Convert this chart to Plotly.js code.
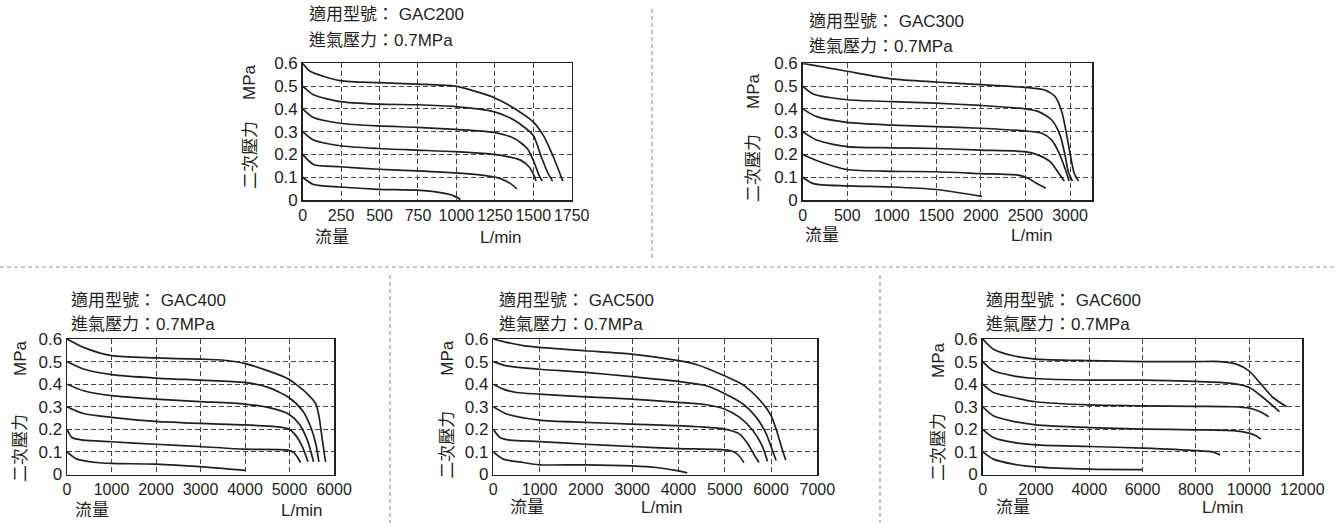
<!DOCTYPE html>
<html>
<head>
<meta charset="utf-8">
<script src="https://cdn.plot.ly/plotly-3.0.1.min.js"></script>
<style>html,body{margin:0;padding:0;background:#fff;}#chart{width:1336px;height:523px;}</style>
</head>
<body>
<div id="chart"></div>
<script>
// ---------- data (flow L/min, secondary pressure MPa) ----------
const PRESSURE_TICKS = [0, 0.1, 0.2, 0.3, 0.4, 0.5, 0.6];
const PRESSURE_LABELS = ["0", "0.1", "0.2", "0.3", "0.4", "0.5", "0.6"];

const GAC200_TICKS = [0, 250, 500, 750, 1000, 1250, 1500, 1750];
const GAC200_FLOW = [
  [0, 48, 243, 493, 743, 993, 1113, 1243, 1374, 1498, 1570, 1635, 1692],
  [0, 70, 243, 493, 743, 993, 1243, 1374, 1498, 1548, 1591, 1625],
  [0, 70, 243, 493, 743, 993, 1243, 1374, 1461, 1504, 1537, 1558],
  [0, 70, 243, 493, 743, 993, 1243, 1309, 1417, 1472, 1504, 1518],
  [0, 70, 243, 493, 743, 993, 1200, 1287, 1352, 1393],
  [0, 70, 243, 493, 743, 896, 983, 1026]
];
const GAC200_PRESSURE = [
  [0.6, 0.565, 0.524, 0.515, 0.509, 0.5, 0.479, 0.45, 0.403, 0.344, 0.278, 0.182, 0.083],
  [0.5, 0.462, 0.432, 0.421, 0.418, 0.41, 0.388, 0.351, 0.285, 0.197, 0.124, 0.083],
  [0.4, 0.362, 0.337, 0.325, 0.319, 0.31, 0.297, 0.271, 0.226, 0.168, 0.109, 0.083],
  [0.3, 0.263, 0.238, 0.226, 0.219, 0.212, 0.2, 0.194, 0.175, 0.146, 0.109, 0.083],
  [0.2, 0.156, 0.146, 0.135, 0.128, 0.119, 0.106, 0.094, 0.072, 0.049],
  [0.1, 0.068, 0.057, 0.047, 0.043, 0.032, 0.018, 0.002]
];

const GAC300_TICKS = [0, 500, 1000, 1500, 2000, 2500, 3000];
const GAC300_FLOW = [
  [0, 498, 1000, 1494, 1996, 2498, 2721, 2832, 2907, 2963, 3011, 3048, 3095],
  [0, 119, 498, 1000, 1494, 1996, 2498, 2647, 2795, 2888, 2944, 2981, 3025],
  [0, 156, 498, 1000, 1494, 1996, 2498, 2684, 2795, 2870, 2944, 2990],
  [0, 156, 498, 1000, 1494, 1996, 2498, 2647, 2777, 2862, 2935],
  [0, 193, 498, 1000, 1494, 1996, 2424, 2535, 2628, 2728],
  [0, 119, 498, 1000, 1494, 2011]
];
const GAC300_PRESSURE = [
  [0.6, 0.565, 0.532, 0.518, 0.506, 0.494, 0.482, 0.454, 0.388, 0.285, 0.182, 0.116, 0.083],
  [0.5, 0.465, 0.44, 0.432, 0.425, 0.415, 0.4, 0.388, 0.351, 0.285, 0.197, 0.124, 0.083],
  [0.4, 0.366, 0.341, 0.329, 0.322, 0.315, 0.303, 0.293, 0.263, 0.212, 0.138, 0.083],
  [0.3, 0.263, 0.234, 0.229, 0.226, 0.219, 0.212, 0.197, 0.168, 0.124, 0.083],
  [0.2, 0.168, 0.134, 0.126, 0.124, 0.116, 0.109, 0.094, 0.072, 0.052],
  [0.1, 0.072, 0.062, 0.057, 0.046, 0.016]
];

const GAC400_TICKS = [0, 1000, 2000, 3000, 4000, 5000, 6000];
const GAC400_FLOW = [
  [0, 370, 1000, 1985, 2985, 3481, 3985, 4519, 4985, 5407, 5593, 5667, 5741, 5810],
  [0, 370, 1000, 1985, 2985, 3985, 4519, 4985, 5296, 5481, 5593, 5660],
  [0, 370, 1000, 1985, 2985, 3985, 4519, 4985, 5222, 5407, 5540],
  [0, 370, 1000, 1985, 2985, 3985, 4741, 4985, 5148, 5296, 5415],
  [0, 111, 370, 1000, 1985, 2985, 3985, 4963, 5096, 5185, 5248],
  [0, 222, 667, 1000, 1985, 2985, 4000]
];
const GAC400_PRESSURE = [
  [0.6, 0.563, 0.526, 0.516, 0.511, 0.507, 0.492, 0.459, 0.422, 0.356, 0.312, 0.253, 0.149, 0.056],
  [0.5, 0.467, 0.442, 0.427, 0.418, 0.408, 0.386, 0.341, 0.282, 0.208, 0.134, 0.056],
  [0.4, 0.371, 0.349, 0.334, 0.323, 0.312, 0.297, 0.267, 0.223, 0.149, 0.056],
  [0.3, 0.27, 0.253, 0.235, 0.226, 0.22, 0.211, 0.201, 0.171, 0.12, 0.056],
  [0.2, 0.164, 0.152, 0.145, 0.134, 0.124, 0.112, 0.108, 0.097, 0.075, 0.053],
  [0.1, 0.068, 0.053, 0.049, 0.046, 0.035, 0.018]
];

const GAC500_TICKS = [0, 1000, 2000, 3000, 4000, 5000, 6000, 7000];
const GAC500_FLOW = [
  [0, 288, 647, 993, 1993, 2993, 4000, 4388, 4993, 5396, 5755, 5993, 6115, 6223, 6317],
  [0, 288, 993, 1993, 2993, 4000, 4604, 4993, 5396, 5683, 5899, 6007, 6110],
  [0, 216, 504, 993, 1993, 2993, 4000, 4604, 4993, 5324, 5612, 5791, 5899, 5921],
  [0, 288, 993, 1993, 2993, 4000, 4993, 5324, 5504, 5647, 5741],
  [0, 144, 360, 993, 1993, 2993, 4000, 4993, 5180, 5309, 5415],
  [0, 216, 647, 993, 1993, 2993, 3525, 4000, 4190]
];
const GAC500_PRESSURE = [
  [0.6, 0.585, 0.571, 0.563, 0.548, 0.533, 0.504, 0.487, 0.437, 0.397, 0.33, 0.264, 0.198, 0.124, 0.064],
  [0.5, 0.481, 0.466, 0.452, 0.433, 0.412, 0.393, 0.359, 0.312, 0.253, 0.179, 0.12, 0.062],
  [0.4, 0.378, 0.363, 0.356, 0.344, 0.334, 0.319, 0.309, 0.29, 0.253, 0.194, 0.134, 0.075, 0.058],
  [0.3, 0.268, 0.241, 0.231, 0.223, 0.216, 0.201, 0.179, 0.134, 0.083, 0.053],
  [0.2, 0.164, 0.152, 0.146, 0.134, 0.124, 0.115, 0.109, 0.102, 0.083, 0.053],
  [0.1, 0.068, 0.053, 0.043, 0.043, 0.038, 0.031, 0.016, 0.007]
];

const GAC600_TICKS = [0, 2000, 4000, 6000, 8000, 10000, 12000];
const GAC600_FLOW = [
  [0, 400, 1150, 1988, 4000, 6000, 8000, 8900, 9525, 10000, 10400, 10900, 11410],
  [0, 400, 1150, 1988, 4000, 6000, 8000, 8900, 9525, 10000, 10525, 11140],
  [0, 400, 1150, 1988, 4000, 6000, 8000, 9400, 10000, 10400, 10740],
  [0, 400, 1150, 1988, 4000, 6000, 8000, 9400, 10000, 10275, 10440],
  [0, 400, 1150, 1988, 4000, 6000, 8000, 8650, 8920],
  [0, 400, 1150, 1988, 4000, 6000]
];
const GAC600_PRESSURE = [
  [0.6, 0.555, 0.526, 0.511, 0.504, 0.5, 0.5, 0.5, 0.489, 0.459, 0.407, 0.341, 0.3],
  [0.5, 0.459, 0.437, 0.425, 0.418, 0.418, 0.412, 0.408, 0.4, 0.386, 0.341, 0.278],
  [0.4, 0.363, 0.341, 0.322, 0.308, 0.304, 0.302, 0.3, 0.294, 0.279, 0.256],
  [0.3, 0.26, 0.235, 0.22, 0.208, 0.201, 0.198, 0.194, 0.183, 0.171, 0.157],
  [0.2, 0.164, 0.142, 0.131, 0.124, 0.117, 0.106, 0.099, 0.087],
  [0.1, 0.068, 0.046, 0.034, 0.024, 0.022]
];

const MODELS = ["GAC200", "GAC300", "GAC400", "GAC500", "GAC600"];
const INLET_PRESSURE = "0.7MPa";

// ---------- layout / styling ----------
const INK = '#231f20';
const LATIN_CJK = '"Liberation Sans", "Noto Sans CJK TC", sans-serif';

const panels = [
  {flow: GAC200_FLOW, pres: GAC200_PRESSURE, ticks: GAC200_TICKS, xmax: 1750,
   dom: [302.7, 571.7, 63.3, 200], title: [307, 15, 40.5], ylab: [250, 82, 155], xlab: [332, 501, 238]},
  {flow: GAC300_FLOW, pres: GAC300_PRESSURE, ticks: GAC300_TICKS, xmax: 3250,
   dom: [802.7, 1092.3, 63.3, 200], title: [807, 21.5, 46], ylab: [753, 91, 168], xlab: [822, 1032, 235]},
  {flow: GAC400_FLOW, pres: GAC400_PRESSURE, ticks: GAC400_TICKS, xmax: 6000,
   dom: [67, 334, 339, 474.5], title: [69, 300.7, 324.5], ylab: [20, 358, 448], xlab: [92, 302, 510]},
  {flow: GAC500_FLOW, pres: GAC500_PRESSURE, ticks: GAC500_TICKS, xmax: 7000,
   dom: [493.3, 817.3, 339, 474.5], title: [497, 300.7, 324.5], ylab: [446.7, 358, 445], xlab: [527, 662, 507]},
  {flow: GAC600_FLOW, pres: GAC600_PRESSURE, ticks: GAC600_TICKS, xmax: 12000,
   dom: [982.7, 1302.3, 339, 474.5], title: [984, 300.7, 324.5], ylab: [938, 360, 447], xlab: [1013, 1223, 507]}
];

const W = 1336, H = 523;
const px = v => v / W;
const py = v => 1 - v / H;

const traces = [];
const layout = {
  width: W, height: H,
  margin: {l: 0, r: 0, t: 0, b: 0},
  paper_bgcolor: '#fff', plot_bgcolor: '#fff',
  showlegend: false,
  font: {family: LATIN_CJK, color: INK},
  annotations: [],
  shapes: []
};

panels.forEach((p, i) => {
  const n = i + 1;
  const xa = n === 1 ? 'x' : 'x' + n;
  const ya = n === 1 ? 'y' : 'y' + n;
  p.flow.forEach((fx, k) => {
    traces.push({
      type: 'scatter', mode: 'lines', x: fx, y: p.pres[k],
      xaxis: xa, yaxis: ya, hoverinfo: 'skip',
      line: {color: INK, width: 1.7, shape: 'spline', smoothing: 0.7}
    });
  });
  const common = {
    showgrid: true, gridcolor: '#444444', gridwidth: 1, griddash: '5px,3px',
    showline: true, mirror: true, linecolor: INK, linewidth: 1.5,
    zeroline: false, ticks: '', fixedrange: true
  };
  layout['xaxis' + (n === 1 ? '' : n)] = Object.assign({}, common, {
    domain: [px(p.dom[0]), px(p.dom[1])], range: [0, p.xmax], anchor: ya,
    tickvals: p.ticks, ticktext: p.ticks.map(String),
    tickfont: {size: 16, color: INK, family: LATIN_CJK}
  });
  layout['yaxis' + (n === 1 ? '' : n)] = Object.assign({}, common, {
    domain: [py(p.dom[3]), py(p.dom[2])], range: [0, 0.6], anchor: xa,
    tickvals: PRESSURE_TICKS, ticktext: PRESSURE_LABELS,
    tickfont: {size: 17, color: INK, family: LATIN_CJK}
  });
  const ann = (text, x, y, opts) => layout.annotations.push(Object.assign({
    text: text, xref: 'paper', yref: 'paper', x: px(x), y: py(y),
    xanchor: 'left', yanchor: 'middle', showarrow: false,
    font: {size: 17, color: INK, family: LATIN_CJK}
  }, opts || {}));
  ann('適用型號： ' + MODELS[i], p.title[0], p.title[1]);
  ann('進氣壓力：' + INLET_PRESSURE, p.title[0], p.title[2]);
  ann('MPa', p.ylab[0], p.ylab[1], {xanchor: 'center', textangle: -90});
  ann('二次壓力', p.ylab[0], p.ylab[2], {xanchor: 'center', textangle: -90});
  ann('流量', p.xlab[0], p.xlab[2], {xanchor: 'center'});
  ann('L/min', p.xlab[1], p.xlab[2], {xanchor: 'center'});
});

// separator dashed lines
const sep = {color: '#9a9a9a', width: 1.2, dash: '4px,3px'};
layout.shapes.push({type: 'line', xref: 'paper', yref: 'paper', x0: 0, x1: 1, y0: py(267), y1: py(267), line: sep});
layout.shapes.push({type: 'line', xref: 'paper', yref: 'paper', x0: px(652), x1: px(652), y0: py(9), y1: py(259), line: sep});
layout.shapes.push({type: 'line', xref: 'paper', yref: 'paper', x0: px(390), x1: px(390), y0: py(275), y1: py(523), line: sep});
layout.shapes.push({type: 'line', xref: 'paper', yref: 'paper', x0: px(880), x1: px(880), y0: py(275), y1: py(523), line: sep});

Plotly.newPlot('chart', traces, layout, {staticPlot: true, displayModeBar: false});
</script>
</body>
</html>
